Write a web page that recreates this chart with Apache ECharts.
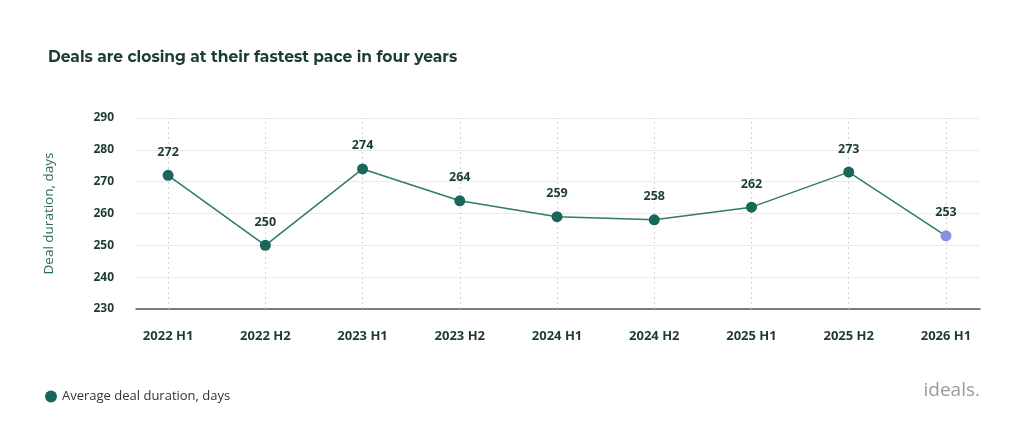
<!DOCTYPE html><html><head><meta charset="utf-8"><script src="https://cdn.jsdelivr.net/npm/echarts@6/dist/echarts.min.js"></script>
<style>body{margin:0;background:#fff}#c{width:1024px;height:441px}</style></head><body><div id="c"></div><script>
const categories=['2022 H1','2022 H2','2023 H1','2023 H2','2024 H1','2024 H2','2025 H1','2025 H2','2026 H1'];
const values=[272,250,274,264,259,258,262,273,253];
const yTicks=[230,240,250,260,270,280,290];
const dark='#17675a', txt='#1d3b35';
const data=values.map((v,i)=>({value:[i,v],itemStyle:{color:i===values.length-1?'#8a8fe6':dark}}));
const c=echarts.init(document.getElementById('c'));
c.setOption({
 title:{text:'Deals are closing at their fastest pace in four years',left:43,top:44,textStyle:{fontFamily:'Montserrat, Open Sans',fontSize:15.5,fontWeight:'bold',color:txt}},
 graphic:[{type:'text',right:44,top:381,style:{text:'ideals.',fontSize:19,fontFamily:'Open Sans',fill:'#9a9a9a'}}],
 legend:{left:40,top:385,icon:'circle',itemWidth:12,itemHeight:12,textStyle:{fontSize:13,color:'#333',fontFamily:'Open Sans'},data:['Average deal duration, days']},
 grid:{left:136,right:44,top:118,bottom:132},
 xAxis:{type:'value',min:-0.33,max:8.35,axisLine:{show:true,lineStyle:{color:'#4d5a57',width:1.5}},axisTick:{show:false},splitLine:{show:false},
  axisLabel:{customValues:categories.map((_,i)=>i),formatter:v=>categories[Math.round(v)]||'',margin:21,fontSize:13,fontWeight:'bold',color:txt,fontFamily:'Open Sans'}},
 yAxis:{type:'value',min:230,max:290,interval:10,name:'Deal duration, days',nameLocation:'middle',nameGap:80,nameTextStyle:{fontSize:13.5,color:'#2e6b5e',fontFamily:'Open Sans'},
  axisLine:{show:false},axisTick:{show:false},splitLine:{lineStyle:{color:'#ebebeb'}},
  axisLabel:{margin:22,fontSize:12,fontWeight:'bold',color:txt,fontFamily:'Open Sans'}},
 series:[
  {type:'line',data:[],z:1,markLine:{z:1,silent:true,symbol:'none',label:{show:false},lineStyle:{type:[2,3],color:'#d4d4d4',width:1},data:categories.map((_,i)=>({xAxis:i}))}},
  {name:'Average deal duration, days',type:'line',data:data,symbol:'circle',symbolSize:11,itemStyle:{color:dark},lineStyle:{color:'#2f7a68',width:1.5},
  label:{show:true,position:'top',distance:11,formatter:p=>p.value[1],fontSize:12.5,fontWeight:'bold',color:txt,fontFamily:'Open Sans'},z:3}]
});
</script></body></html>
